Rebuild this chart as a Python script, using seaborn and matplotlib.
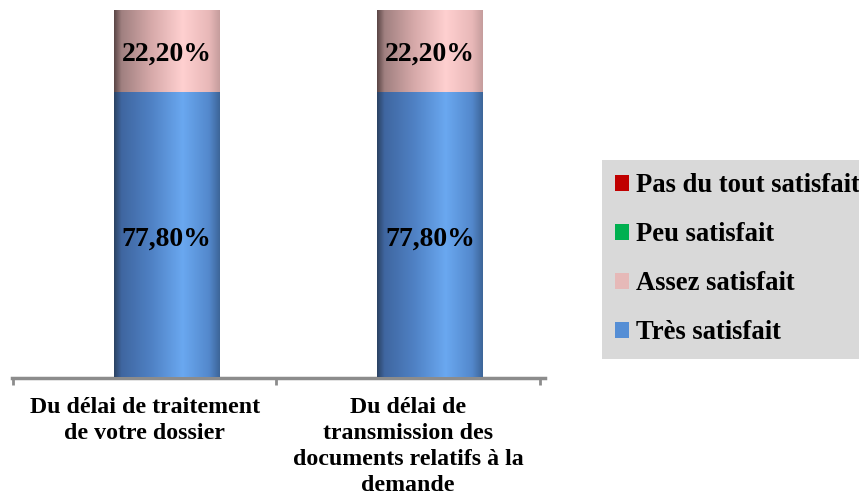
import numpy as np
import pandas as pd
import matplotlib.pyplot as plt
import seaborn as sns
from matplotlib.colors import LinearSegmentedColormap
from matplotlib.patches import Patch

# ------------------------------
# Data
# ------------------------------
categories = ["Du délai de traitement\nde votre dossier",
              "Du délai de\ntransmission des\ndocuments relatifs à la\ndemande"]
series = ["Très satisfait", "Assez satisfait", "Peu satisfait", "Pas du tout satisfait"]
tres = [77.8, 77.8]
assez = [22.2, 22.2]
peu = [0.0, 0.0]
pas_du_tout = [0.0, 0.0]
labels_tres = ["77,80%", "77,80%"]
labels_assez = ["22,20%", "22,20%"]

colors = {"Très satisfait": "#558ed5", "Assez satisfait": "#e6b9b8",
          "Peu satisfait": "#00b050", "Pas du tout satisfait": "#c00000"}
# cylinder-like shading across each bar
shades = {
    "Très satisfait": ["#2b4263", "#3f66a0", "#4f81c4", "#6aa8f0", "#5388cc", "#3d6598"],
    "Assez satisfait": ["#5a4646", "#a08080", "#d6a9a9", "#ffd0d0", "#e8b8b8", "#c59d9d"],
    "Peu satisfait": ["#005a2c", "#008a40", "#00a84c", "#33d070", "#00b050", "#00803a"],
    "Pas du tout satisfait": ["#600000", "#900000", "#b80000", "#e03030", "#c00000", "#900000"],
}
stops = [0.0, 0.07, 0.35, 0.65, 0.9, 1.0]

df = pd.DataFrame({
    "cat": categories * 4,
    "serie": np.repeat(series, 2),
    "val": tres + assez + peu + pas_du_tout,
})
df["cum"] = df.groupby("cat", sort=False)["val"].cumsum()
df["base"] = df["cum"] - df["val"]

# ------------------------------
# Plot
# ------------------------------
sns.set_theme(style="white")
plt.rcParams["font.family"] = ["Liberation Serif", "DejaVu Serif"]
plt.rcParams["font.weight"] = "bold"
plt.rcParams["text.color"] = "black"
plt.rcParams["xtick.color"] = "black"

fig = plt.figure(figsize=(8.59, 4.96), dpi=100)
ax = fig.add_axes([12 / 859, 118.5 / 496, 533 / 859, 367.5 / 496])

bar_w = 0.4
for s in series[::-1]:
    sub = df[df["serie"] == s]
    sns.barplot(data=sub, x="cat", y="cum", order=categories, color=colors[s],
                saturation=1, width=bar_w, ax=ax, zorder=2)

grad = np.linspace(0, 1, 256).reshape(1, -1)
for s in series:
    cmap = LinearSegmentedColormap.from_list(s, list(zip(stops, shades[s])))
    sub = df[df["serie"] == s].reset_index(drop=True)
    for i, row in sub.iterrows():
        if row["val"] <= 0:
            continue
        ax.imshow(grad, cmap=cmap, aspect="auto", interpolation="bilinear",
                  extent=[i - bar_w / 2, i + bar_w / 2, row["base"], row["cum"]],
                  zorder=3)

for i in range(len(categories)):
    ax.text(i, tres[i] / 2 - 1.2, labels_tres[i], ha="center", va="center",
            fontsize=20, fontweight="bold", color="black", zorder=5)
    ax.text(i, tres[i] + assez[i] / 2 - 0.8, labels_assez[i], ha="center", va="center",
            fontsize=20, fontweight="bold", color="black", zorder=5)

ax.set_xlim(-0.586, 1.436)
ax.set_ylim(0, 100)
ax.set_xlabel("")
ax.set_ylabel("")
ax.set_yticks([])

# category labels centred between boundary ticks
label_pos = [i - 0.083 for i in range(len(categories))]
ax.set_xticks(label_pos)
ax.set_xticklabels(categories, fontsize=17.2, fontweight="bold", linespacing=1.32,
                   color="black")
ax.set_xticks([p - 0.5 for p in label_pos] + [label_pos[-1] + 0.5], minor=True)
ax.tick_params(axis="x", which="major", length=0, pad=14)
ax.tick_params(axis="x", which="minor", bottom=True, length=5, width=2, color="#8c8c8c")

for side in ["left", "right", "top"]:
    ax.spines[side].set_visible(False)
ax.spines["bottom"].set_color("#8c8c8c")
ax.spines["bottom"].set_linewidth(2.5)

handles = [Patch(facecolor=colors[s], edgecolor="none", label=s) for s in series[::-1]]
leg = fig.legend(handles=handles, loc="upper left",
                 bbox_to_anchor=(602 / 859, 1 - 160 / 496),
                 frameon=True, fancybox=False, facecolor="#d9d9d9", edgecolor="none",
                 framealpha=1, borderaxespad=0, borderpad=0.5,
                 handlelength=0.52, handleheight=0.52, handletextpad=0.25,
                 labelspacing=0.9, prop={"size": 19.2, "weight": "bold"})
for t in leg.get_texts():
    t.set_color("black")

fig.savefig("out.png", dpi=100)
